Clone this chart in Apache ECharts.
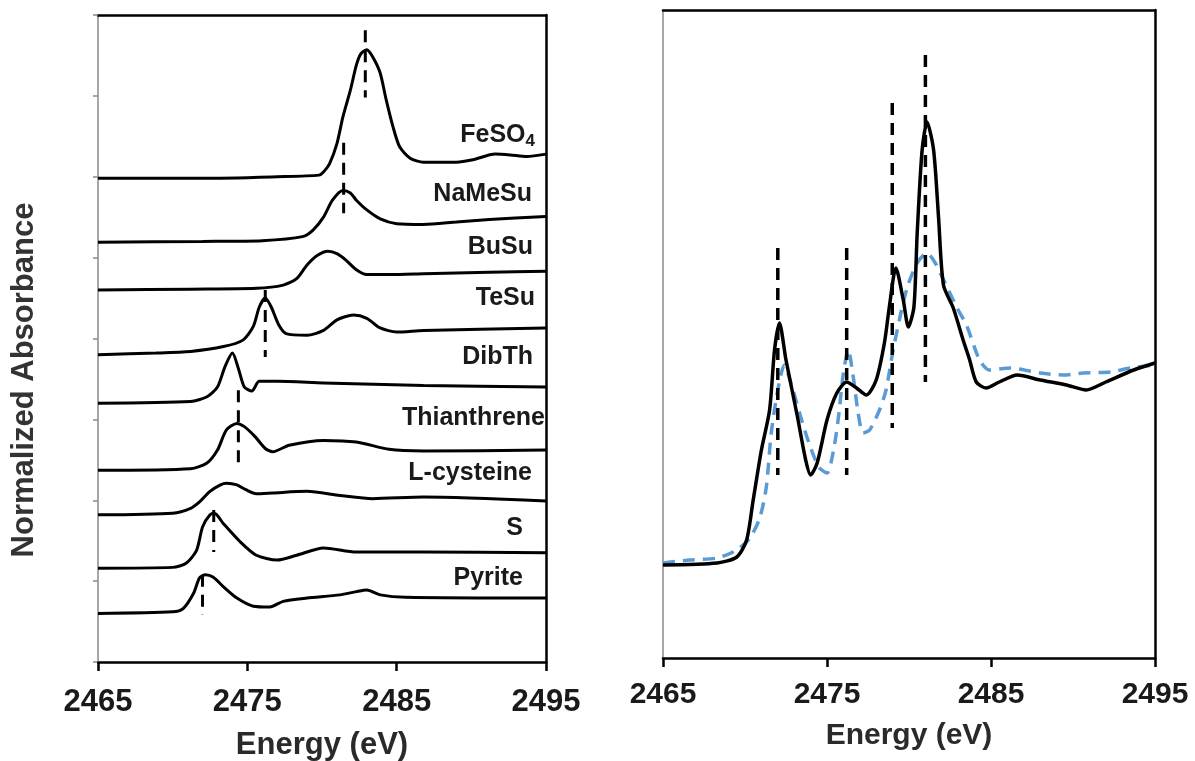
<!DOCTYPE html>
<html>
<head>
<meta charset="utf-8">
<script src="https://cdn.jsdelivr.net/npm/echarts@6/dist/echarts.min.js"></script>
<style>
html,body{margin:0;padding:0;background:#fff;}
#chart{width:1195px;height:761px;}
</style>
</head>
<body>
<div id="chart"></div>
<script>
// ---------- DATA ----------
const xTicks = [2465, 2475, 2485, 2495];
const leftNames = ['FeSO4', 'NaMeSu', 'BuSu', 'TeSu', 'DibTh', 'Thianthrene', 'L-cysteine', 'S', 'Pyrite'];
const yTitle = 'Normalized Absorbance';
const xTitle = 'Energy (eV)';

// Left panel: stacked normalized spectra [energy eV, offset absorbance]
const feso4 = [[2465,5.98],[2472,5.98],[2477,6.00],[2479.8,6.02],[2480.1,6.06],[2480.5,6.16],[2481,6.41],[2481.4,6.74],[2481.9,7.07],[2482.3,7.38],[2482.6,7.52],[2483,7.57],[2483.4,7.48],[2483.9,7.28],[2484.3,6.95],[2484.75,6.62],[2485.2,6.37],[2485.9,6.23],[2486.8,6.18],[2489,6.18],[2490.1,6.21],[2491.6,6.28],[2492.6,6.27],[2493.7,6.25],[2495,6.28]];
const namesu = [[2465,5.19],[2472,5.20],[2476,5.21],[2478.7,5.26],[2479.4,5.34],[2480.1,5.50],[2480.7,5.71],[2481.4,5.83],[2481.9,5.80],[2482.3,5.71],[2483,5.59],[2483.9,5.48],[2485,5.42],[2486.8,5.41],[2489,5.44],[2491.2,5.47],[2495,5.51]];
const busu = [[2465,4.60],[2471.2,4.61],[2475.6,4.62],[2477.4,4.66],[2478.3,4.74],[2479,4.91],[2479.7,5.03],[2480.4,5.08],[2481,5.05],[2481.6,4.97],[2482.3,4.85],[2483,4.79],[2484.5,4.79],[2486.8,4.80],[2491.2,4.82],[2495,4.83]];
const tesu = [[2465,3.80],[2468.9,3.82],[2471.2,3.84],[2473.4,3.90],[2474.7,3.98],[2475.4,4.15],[2475.8,4.39],[2476.2,4.50],[2476.6,4.39],[2477.1,4.17],[2477.6,4.06],[2479,4.04],[2480.1,4.10],[2481,4.23],[2482.1,4.29],[2483,4.25],[2483.9,4.13],[2485,4.08],[2486.8,4.10],[2495,4.13]];
const dibth = [[2465,3.20],[2471.2,3.22],[2472.3,3.28],[2473,3.40],[2473.5,3.65],[2474,3.82],[2474.4,3.63],[2474.8,3.40],[2475.3,3.35],[2475.8,3.47],[2477,3.47],[2480.1,3.45],[2486.8,3.42],[2495,3.40]];
const thianthrene = [[2465,2.37],[2471.2,2.39],[2472.3,2.46],[2473,2.62],[2473.6,2.87],[2474.3,2.95],[2474.8,2.91],[2475.5,2.79],[2476.2,2.64],[2476.7,2.60],[2477.8,2.68],[2480.1,2.74],[2482.3,2.72],[2484.5,2.63],[2486.8,2.61],[2495,2.62]];
const lcysteine = [[2465,1.82],[2470,1.84],[2471.2,1.90],[2471.8,1.98],[2472.5,2.11],[2473.2,2.19],[2473.6,2.21],[2474.3,2.19],[2474.9,2.13],[2475.6,2.08],[2476.7,2.09],[2479,2.11],[2481.2,2.06],[2483.4,2.02],[2486.8,2.04],[2495,1.99]];
const sulfur = [[2465,1.16],[2470,1.17],[2470.9,1.22],[2471.6,1.38],[2472,1.67],[2472.5,1.82],[2472.8,1.84],[2473.4,1.71],[2474.5,1.49],[2475.6,1.32],[2477,1.26],[2478.3,1.32],[2480.1,1.41],[2482.3,1.36],[2486.8,1.36],[2495,1.35]];
const pyrite = [[2465,0.60],[2470,0.62],[2470.7,0.66],[2471.4,0.85],[2471.8,1.04],[2472.2,1.08],[2472.7,1.05],[2473.4,0.93],[2474.3,0.79],[2475.4,0.69],[2476.5,0.68],[2477.4,0.75],[2479,0.79],[2481.2,0.83],[2482.3,0.87],[2483,0.89],[2483.9,0.83],[2485.6,0.80],[2495,0.79]];
const leftSeries = [feso4, namesu, busu, tesu, dibth, thianthrene, lcysteine, sulfur, pyrite];

// Left panel peak markers: [energy, top, bottom]
const leftPeaks = [[2482.9,7.81,6.98],[2481.45,6.42,5.55],[2476.2,4.60,3.77],[2474.4,3.36,2.37],[2472.75,1.88,1.36],[2472.0,1.08,0.58]];

// Right panel: sample (black) and reference (blue dashed)
const sample = [[2465,0],[2468.3,0.01],[2469.5,0.04],[2470.1,0.125],[2470.5,0.325],[2471,0.575],[2471.5,0.775],[2471.8,1.075],[2472.1,1.21],[2472.5,1.025],[2473.2,0.74],[2473.7,0.525],[2474,0.45],[2474.4,0.51],[2475,0.725],[2475.6,0.86],[2476.2,0.915],[2476.8,0.885],[2477.4,0.85],[2478,0.925],[2478.5,1.11],[2478.8,1.29],[2479.2,1.485],[2479.65,1.325],[2479.96,1.19],[2480.3,1.29],[2480.5,1.66],[2480.8,2.075],[2481.1,2.215],[2481.5,2.075],[2481.8,1.74],[2482.1,1.40],[2482.7,1.285],[2483.3,1.125],[2483.7,1.025],[2484.1,0.915],[2484.7,0.885],[2485.5,0.915],[2486.6,0.95],[2488,0.925],[2489.6,0.90],[2490.8,0.875],[2492,0.915],[2493.7,0.975],[2495,1.01]];
const reference = [[2465,0.01],[2466.6,0.025],[2468.3,0.035],[2469.5,0.075],[2470.3,0.135],[2470.9,0.235],[2471.3,0.39],[2471.6,0.66],[2472,0.875],[2472.4,1.0],[2472.8,0.91],[2473.4,0.74],[2473.9,0.61],[2474.5,0.49],[2475,0.46],[2475.4,0.575],[2475.7,0.74],[2476,0.96],[2476.3,1.075],[2476.6,0.94],[2476.9,0.76],[2477.2,0.66],[2477.6,0.675],[2478.2,0.775],[2478.6,0.875],[2479,1.06],[2479.45,1.24],[2479.9,1.39],[2480.5,1.51],[2481.1,1.56],[2481.6,1.51],[2482.2,1.41],[2482.9,1.29],[2483.5,1.20],[2484.3,1.025],[2484.9,0.975],[2486.2,0.985],[2488,0.96],[2489.4,0.95],[2490.6,0.96],[2492.3,0.965],[2493.5,0.985],[2495,1.0]];
// Right panel peak markers: [energy, top, bottom]
const rightPeaks = [[2472.0,1.585,0.45],[2476.2,1.585,0.45],[2478.98,2.31,0.685],[2481.0,2.55,0.915]];

// ---------- CHART ----------
const FONT = '"Liberation Sans", Arial, Helvetica, sans-serif';
const TXT = '#1a1a1a';
const chart = echarts.init(document.getElementById('chart'), null, {renderer: 'canvas'});

function bottomAxis(grid, margin, nameGap, labelSize, nameSize) {
  return {
    type: 'value', gridIndex: grid, position: 'bottom', min: 2465, max: 2495,
    axisLine: {show: true, onZero: false, lineStyle: {color: '#000', width: 2.5}},
    axisTick: {show: true, inside: false, length: 9, customValues: xTicks, lineStyle: {color: '#000', width: 2.5}},
    axisLabel: {show: true, customValues: xTicks, formatter: (v) => String(v), margin: margin,
                color: TXT, fontSize: labelSize, fontWeight: 'bold', fontFamily: FONT},
    splitLine: {show: false},
    name: xTitle, nameLocation: 'middle', nameGap: nameGap,
    nameTextStyle: {color: '#2a2a2a', fontSize: nameSize, fontWeight: 'bold', fontFamily: FONT}
  };
}
function topAxis(grid) {
  return {
    type: 'value', gridIndex: grid, position: 'top', min: 2465, max: 2495,
    axisLine: {show: true, onZero: false, lineStyle: {color: '#000', width: 2.5}},
    axisTick: {show: false}, axisLabel: {show: false}, splitLine: {show: false}
  };
}
function rightAxis(grid, mn, mx) {
  return {
    type: 'value', gridIndex: grid, position: 'right', min: mn, max: mx,
    axisLine: {show: true, onZero: false, lineStyle: {color: '#000', width: 2.5}},
    axisTick: {show: false}, axisLabel: {show: false}, splitLine: {show: false}
  };
}

const SMOOTH = 0.25;
const series = [];
leftSeries.forEach((d, i) => {
  series.push({
    name: leftNames[i], type: 'line', xAxisIndex: 0, yAxisIndex: 0, data: d,
    showSymbol: false, smooth: SMOOTH, lineStyle: {color: '#000', width: 3}, z: 3, silent: true
  });
});
leftPeaks.forEach((p) => {
  series.push({
    type: 'line', xAxisIndex: 0, yAxisIndex: 0, data: [[p[0], p[1]], [p[0], p[2]]],
    showSymbol: false, lineStyle: {color: '#000', width: 3, type: [12, 8]}, z: 4, silent: true
  });
});
series.push({
  name: 'reference', type: 'line', xAxisIndex: 2, yAxisIndex: 2, data: reference,
  showSymbol: false, smooth: SMOOTH, lineStyle: {color: '#5b9bd5', width: 3.5, type: [12, 8]}, z: 3, silent: true
});
series.push({
  name: 'sample', type: 'line', xAxisIndex: 2, yAxisIndex: 2, data: sample,
  showSymbol: false, smooth: SMOOTH, lineStyle: {color: '#000', width: 3.5}, z: 4, silent: true
});
rightPeaks.forEach((p) => {
  series.push({
    type: 'line', xAxisIndex: 2, yAxisIndex: 2, data: [[p[0], p[1]], [p[0], p[2]]],
    showSymbol: false, lineStyle: {color: '#000', width: 3.5, type: [12, 8]}, z: 5, silent: true
  });
});

// label placement (pixels) for the stacked spectra names
const labelPos = [[535,135],[532,194],[533,247],[535,298],[533,357],[545,418],[532,473],[523,528],[523,578]];
const graphics = leftNames.map((n, i) => {
  const isFe = n === 'FeSO4';
  return {
    type: 'text', x: labelPos[i][0], y: labelPos[i][1], z: 10,
    style: {
      text: isFe ? '{m|FeSO}{s|4}' : n,
      rich: isFe ? {m: {fontSize: 25, fontWeight: 'bold', fontFamily: FONT, fill: TXT, color: TXT},
                    s: {fontSize: 17, fontWeight: 'bold', fontFamily: FONT, fill: TXT, color: TXT, padding: [12, 0, 0, 0]}} : undefined,
      fill: TXT, fontSize: 25, fontWeight: 'bold', fontFamily: FONT,
      align: 'right', verticalAlign: 'middle'
    }
  };
});
graphics.push({
  type: 'text', x: 24, y: 380, rotation: Math.PI / 2, z: 10,
  style: {text: yTitle, fill: '#333', fontSize: 31, fontWeight: 'bold', fontFamily: FONT, align: 'center', verticalAlign: 'middle'}
});

chart.setOption({
  backgroundColor: '#fff',
  animation: false,
  grid: [
    {left: 98, top: 15, width: 448, height: 647, outerBoundsMode: 'none', containLabel: false},
    {left: 663, top: 10, width: 492, height: 648, outerBoundsMode: 'none', containLabel: false}
  ],
  xAxis: [bottomAxis(0, 25, 68, 31, 31), topAxis(0), bottomAxis(1, 22, 63, 30, 30), topAxis(1)],
  yAxis: [
    {
      type: 'value', gridIndex: 0, position: 'left', min: 0, max: 8, interval: 1,
      axisLine: {show: true, onZero: false, lineStyle: {color: '#8a8a8a', width: 1.5}},
      axisTick: {show: true, inside: false, length: 5, lineStyle: {color: '#8a8a8a', width: 1.5}},
      axisLabel: {show: false}, splitLine: {show: false}
    },
    rightAxis(0, 0, 8),
    {
      type: 'value', gridIndex: 1, position: 'left', min: -0.465, max: 2.775,
      axisLine: {show: true, onZero: false, lineStyle: {color: '#8a8a8a', width: 1.5}},
      axisTick: {show: false}, axisLabel: {show: false}, splitLine: {show: false}
    },
    rightAxis(1, -0.465, 2.775)
  ],
  series: series,
  graphic: graphics
});
</script>
</body>
</html>
